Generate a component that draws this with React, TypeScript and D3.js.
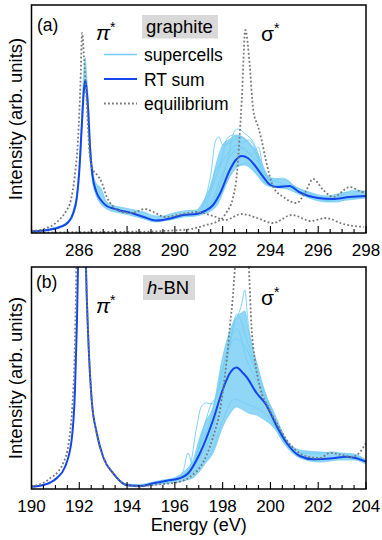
import React from 'react';
import * as d3 from 'd3';

type Pt = [number, number];
type Band = [number, number, number];

const FONT = '"Liberation Sans", Arial, Helvetica, sans-serif';

// ---- panel (a): graphite, energy 284-298 eV ----
const ticksA = [286, 288, 290, 292, 294, 296, 298];

const rtSumA: Pt[] = [
  [284.0, 1.5], [284.5, 2.5], [284.8, 3.5], [285.2, 6], [285.5, 10], [285.75, 20],
  [285.9, 36], [286.0, 62], [286.1, 105], [286.2, 145], [286.25, 153], [286.3, 145],
  [286.38, 120], [286.45, 85], [286.55, 58], [286.7, 42], [286.9, 33], [287.15, 27],
  [287.5, 24], [287.7, 22.5], [288.1, 20.5], [288.7, 16], [289.2, 12.5], [289.5, 13],
  [289.8, 14.5], [290.35, 18], [290.9, 19], [291.25, 22], [291.6, 28], [291.9, 40],
  [292.3, 63], [292.55, 73], [292.8, 77], [293.05, 75], [293.3, 69], [293.7, 56],
  [294.0, 48], [294.3, 46], [294.8, 47], [295.2, 41], [295.6, 37], [296.0, 35],
  [296.6, 34], [297.3, 36], [298.0, 37],
];

// spread of the supercell spectra: [energy, low, high]
const supercellBandA: Band[] = [
  [284.0, 1, 2], [284.8, 3, 4.5], [285.5, 9, 11], [285.75, 18, 23], [285.9, 33, 40],
  [286.0, 58, 68], [286.1, 100, 115], [286.2, 140, 165], [286.25, 148, 175],
  [286.3, 138, 160], [286.38, 112, 130], [286.45, 78, 95], [286.55, 52, 65],
  [286.7, 38, 50], [286.9, 29, 45], [287.15, 24, 31], [287.5, 21, 27], [287.7, 20, 26],
  [288.1, 18, 24], [288.7, 14, 21], [289.2, 11, 17], [289.5, 12, 17], [289.8, 13, 19],
  [290.35, 16, 22], [290.9, 17, 23], [291.2, 19, 32], [291.5, 22, 48], [291.8, 29, 75],
  [292.0, 40, 88], [292.3, 57, 94], [292.6, 66, 98], [292.9, 68, 95], [293.2, 64, 88],
  [293.5, 56, 78], [293.7, 50, 63], [294.05, 46, 55], [294.4, 45, 54], [294.7, 44, 53],
  [295.0, 41, 47], [295.5, 36, 42], [296.35, 31, 37], [297.2, 33, 41], [298.0, 35, 42],
];

const supercellLinesA: Pt[][] = [
  [[290.9, 20], [291.2, 30], [291.5, 58], [291.7, 92], [291.85, 96], [292.0, 88], [292.3, 90], [292.7, 97], [293.0, 92], [293.4, 78], [293.7, 58], [294.0, 52]],
  [[290.9, 19], [291.4, 24], [291.8, 42], [292.2, 72], [292.5, 102], [292.65, 104], [292.9, 100], [293.3, 90], [293.6, 72], [294.0, 54], [294.5, 50]],
  [[291.3, 21], [291.8, 32], [292.2, 52], [292.6, 66], [293.0, 70], [293.4, 60], [293.8, 50], [294.3, 47]],
  [[291.0, 20], [291.6, 35], [292.0, 60], [292.4, 80], [292.8, 85], [293.2, 78], [293.5, 86], [293.7, 64], [294.1, 50]],
  [[291.1, 22], [291.5, 45], [291.7, 62], [291.9, 70], [292.2, 95], [292.45, 98], [292.8, 90], [293.1, 93], [293.4, 82], [293.7, 60], [294.0, 55]],
  [[291.3, 25], [291.7, 55], [292.0, 72], [292.3, 82], [292.6, 88], [292.9, 84], [293.3, 75], [293.6, 68], [293.9, 55]],
  [[294.0, 50], [294.5, 55], [295.0, 47], [295.5, 41], [296.0, 36], [296.5, 32], [297.0, 38], [297.5, 43], [298.0, 41]],
  [[294.0, 47], [294.6, 48], [295.1, 43], [295.6, 38], [296.2, 33], [296.8, 31], [297.3, 35], [298.0, 36]],
];

// equilibrium, pi*-like polarisation
const equilibriumA1: Pt[] = [
  [284.0, 2], [284.5, 4], [284.9, 8], [285.2, 14], [285.45, 22], [285.65, 33], [285.8, 55],
  [285.95, 95], [286.05, 150], [286.12, 200], [286.2, 175], [286.3, 135], [286.45, 75],
  [286.6, 62], [286.75, 58], [286.95, 50], [287.15, 36], [287.4, 27], [287.8, 21],
  [288.2, 20], [288.75, 24], [289.1, 21], [289.6, 16], [290.1, 18], [290.6, 20],
  [290.9, 21], [291.6, 17], [292.1, 13], [292.8, 19], [293.45, 15], [294.1, 10],
  [294.9, 18], [295.7, 12], [296.3, 15], [297.05, 9], [297.9, 6],
];

// equilibrium, sigma*-like polarisation
const equilibriumA2: Pt[] = [
  [284.0, 0.5], [286.0, 0.8], [288.0, 1.2], [289.1, 1.5], [289.9, 2.5], [290.6, 3.7],
  [291.3, 8], [291.9, 13], [292.17, 21], [292.44, 36], [292.6, 60], [292.7, 93],
  [292.8, 133], [292.95, 203], [293.14, 166], [293.28, 123], [293.49, 106], [293.63, 93],
  [293.8, 74], [294.12, 46], [294.54, 36], [295.1, 30], [295.44, 40], [295.79, 54],
  [296.21, 43], [296.63, 36], [297.33, 46], [297.88, 41], [298.0, 42],
];

// ---- panel (b): h-BN, energy 190-204 eV ----
const ticksB = [190, 192, 194, 196, 198, 200, 202, 204];

const rtSumB: Pt[] = [
  [190.0, 2.3], [190.5, 4], [191.05, 10.7], [191.4, 22], [191.68, 49], [191.82, 99],
  [191.9, 166], [192.0, 290], [192.1, 430], [192.2, 340], [192.28, 222], [192.38, 149],
  [192.52, 89], [192.73, 56], [193.0, 32], [193.42, 15.7], [193.98, 4], [194.54, 3],
  [195.1, 5.7], [195.66, 8.3], [196.2, 10.7], [196.56, 15.7], [197.05, 35.7], [197.6, 69],
  [198.0, 99], [198.3, 115.7], [198.58, 121.5], [198.86, 115.7], [199.0, 112], [199.42, 96],
  [199.8, 85], [200.26, 63], [200.68, 46], [201.23, 33], [201.8, 29.7], [202.6, 30.7],
  [203.2, 32.3], [203.6, 30.7], [204.0, 27.3],
];

const supercellBandB: Band[] = [
  [193.5, 12, 14], [194.0, 3, 5], [194.5, 2.5, 4.5], [195.1, 4, 7], [195.5, 5, 9],
  [195.8, 6, 10], [196.2, 7, 14], [196.5, 9, 20], [196.75, 11, 28], [197.05, 18, 52],
  [197.26, 25, 66], [197.6, 36, 82], [198.0, 62, 132], [198.3, 75, 158], [198.58, 82, 172],
  [198.78, 80, 176], [198.93, 78, 178], [199.07, 76, 160], [199.42, 74, 125],
  [199.7, 70, 100], [200.12, 62, 78], [200.68, 42, 49], [201.23, 31, 39], [202.07, 27, 37],
  [202.9, 29, 36], [203.5, 29, 35], [204.0, 25, 29],
];

const supercellLinesB: Pt[][] = [
  [[195.5, 6], [196.0, 9], [196.35, 18], [196.55, 36], [196.75, 24], [197.0, 40], [197.5, 70], [198.0, 120], [198.5, 165], [198.8, 185], [198.93, 199], [199.05, 170], [199.5, 120], [200.0, 80], [200.5, 52], [201.0, 40]],
  [[196.0, 9], [196.6, 20], [196.9, 60], [197.1, 82], [197.3, 86], [197.6, 85], [198.0, 120], [198.5, 150], [199.0, 140], [199.5, 110], [200.0, 78], [200.6, 48]],
  [[196.5, 12], [197.0, 22], [197.6, 40], [198.0, 68], [198.5, 90], [199.0, 85], [199.5, 80], [200.0, 70], [200.6, 45], [201.2, 33]],
  [[197.0, 30], [197.6, 60], [198.2, 130], [198.6, 175], [199.0, 150], [199.4, 120], [199.8, 95], [200.3, 65], [200.8, 42]],
  [[196.8, 25], [197.2, 60], [197.5, 84], [197.8, 95], [198.2, 140], [198.6, 160], [199.0, 130], [199.6, 100], [200.1, 72], [200.7, 46]],
  [[201.2, 36], [202.0, 36], [202.6, 37], [203.2, 34], [203.6, 33], [204.0, 28]],
];

const equilibriumB: Pt[] = [
  [190.0, 3], [190.5, 6], [190.77, 10.7], [191.1, 17], [191.33, 26], [191.55, 45],
  [191.7, 80], [191.8, 130], [191.88, 222], [191.95, 320], [192.05, 440], [192.15, 400],
  [192.28, 222], [192.38, 149], [192.52, 89], [192.73, 56], [193.0, 32], [193.42, 15.7],
  [193.98, 4], [194.54, 2.5], [195.1, 4], [196.2, 7.3], [196.63, 12], [197.19, 27],
  [197.6, 52], [197.89, 79], [198.17, 129], [198.3, 162], [198.44, 196], [198.56, 240],
  [198.8, 330], [199.0, 290], [199.1, 222], [199.21, 162], [199.35, 129], [199.56, 102],
  [199.9, 82], [200.26, 66], [200.68, 49], [201.1, 38], [201.6, 32], [202.07, 31],
  [202.5, 36], [203.0, 34], [203.4, 32], [203.75, 37], [204.0, 46],
];

const X0 = 31.5;
const X1 = 366;
const LIGHT = '#74cdf5';
const BLUE = '#1346ea';
const GREY = '#777777';

type PanelProps = {
  id: string;
  domain: [number, number];
  top: number;
  bottom: number;
  yMax: number;
  ticks: number[];
  rt: Pt[];
  band: Band[];
  lines: Pt[][];
  equilibrium: Pt[][];
};

const Panel = ({ id, domain, top, bottom, yMax, ticks, rt, band, lines, equilibrium }: PanelProps) => {
  const x = d3.scaleLinear().domain(domain).range([X0, X1]);
  const y = d3.scaleLinear().domain([0, yMax]).range([bottom, top]);

  const line = d3.line<Pt>().x(d => x(d[0])).y(d => y(d[1])).curve(d3.curveMonotoneX);
  const area = d3.area<Band>()
    .x(d => x(d[0]))
    .y0(d => y(d[1]))
    .y1(d => y(d[2]))
    .curve(d3.curveMonotoneX);

  const minor = d3.range(domain[0], domain[1] + 0.001, 0.5);

  return (
    <g>
      <defs>
        <clipPath id={`clip-${id}`}>
          <rect x={X0} y={top} width={X1 - X0} height={bottom - top} />
        </clipPath>
      </defs>
      <g clipPath={`url(#clip-${id})`}>
        <path d={area(band) || ''} fill={LIGHT} fillOpacity={0.8} stroke={LIGHT} strokeWidth={0.8} />
        {lines.map((l, i) => (
          <path key={i} d={line(l) || ''} fill="none" stroke={LIGHT} strokeWidth={0.9} />
        ))}
        <path d={line(rt) || ''} fill="none" stroke={BLUE} strokeWidth={2} />
        {equilibrium.map((l, i) => (
          <path key={i} d={line(l) || ''} fill="none" stroke={GREY} strokeWidth={1.8} strokeDasharray="1.8,2.2" />
        ))}
      </g>
      {minor.map(t => (
        <line key={t} x1={x(t)} x2={x(t)} y1={bottom} y2={bottom - (t % 2 === 0 ? 7 : 4)} stroke="#000" strokeWidth={1.1} />
      ))}
      <rect x={X0} y={top} width={X1 - X0} height={bottom - top} fill="none" stroke="#000" strokeWidth={1.5} />
      {ticks.map(t => (
        <text key={t} x={x(t)} y={bottom + 22.5} textAnchor="middle" fontSize={17}>{t}</text>
      ))}
      <text transform={`translate(22,${(top + bottom) / 2}) rotate(-90)`} textAnchor="middle" fontSize={18.5}>
        Intensity (arb. units)
      </text>
    </g>
  );
};

const Star = ({ x, y, italic, sym }: { x: number; y: number; italic: boolean; sym: string }) => (
  <text x={x} y={y} fontSize={21}>
    <tspan fontStyle={italic ? 'italic' : 'normal'}>{sym}</tspan>
    <tspan fontSize={14} dy={-8}>*</tspan>
  </text>
);

export default function App() {
  return (
    <svg width={382} height={540} style={{ position: 'absolute', left: 0, top: 0 }} fontFamily={FONT}>
      <rect width={382} height={540} fill="#fff" />
      <Panel id="a" domain={[284, 298]} top={5} bottom={233} yMax={228} ticks={ticksA}
        rt={rtSumA} band={supercellBandA} lines={supercellLinesA} equilibrium={[equilibriumA1, equilibriumA2]} />
      <Panel id="b" domain={[190, 204]} top={267} bottom={489} yMax={222} ticks={ticksB}
        rt={rtSumB} band={supercellBandB} lines={supercellLinesB} equilibrium={[equilibriumB]} />

      {/* panel (a) annotations */}
      <text x={37} y={31} fontSize={17.5}>(a)</text>
      <Star x={96} y={40} italic sym="π" />
      <Star x={261} y={41} italic={false} sym="σ" />
      <rect x={142} y={15} width={76} height={23.5} fill="#d9d9d9" />
      <text x={146} y={33} fontSize={18.5}>graphite</text>
      <line x1={104} x2={137} y1={54.5} y2={54.5} stroke={LIGHT} strokeWidth={1.3} />
      <text x={144} y={61} fontSize={17.5}>supercells</text>
      <line x1={104} x2={137} y1={79} y2={79} stroke={BLUE} strokeWidth={2} />
      <text x={144} y={85.5} fontSize={17.5}>RT sum</text>
      <line x1={104} x2={137} y1={103.5} y2={103.5} stroke={GREY} strokeWidth={1.8} strokeDasharray="1.8,2.2" />
      <text x={144} y={110} fontSize={17.5}>equilibrium</text>

      {/* panel (b) annotations */}
      <text x={36} y={288} fontSize={17.5}>(b)</text>
      <Star x={96} y={313} italic sym="π" />
      <Star x={261} y={305} italic={false} sym="σ" />
      <rect x={143} y={275} width={52} height={25} fill="#d9d9d9" />
      <text x={147} y={294} fontSize={18.5}>
        <tspan fontStyle="italic">h</tspan>-BN
      </text>

      <text x={(X0 + X1) / 2} y={531} textAnchor="middle" fontSize={18}>Energy (eV)</text>
    </svg>
  );
}
